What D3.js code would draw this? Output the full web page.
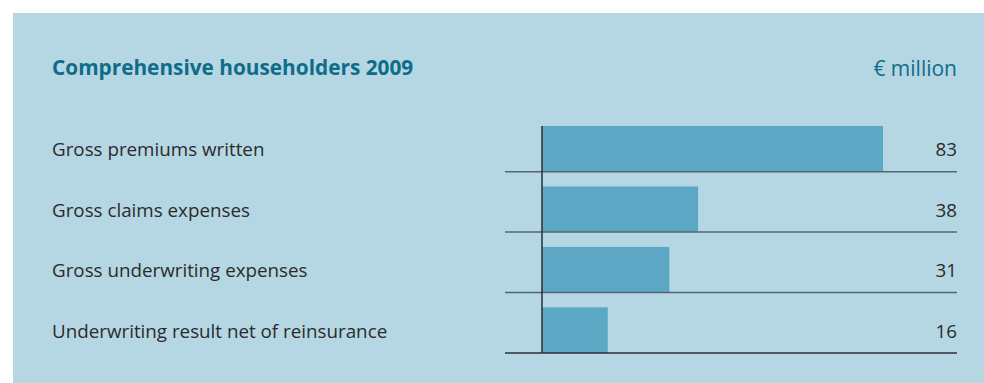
<!DOCTYPE html>
<html>
<head>
<meta charset="utf-8">
<script src="https://cdn.jsdelivr.net/npm/d3@7"></script>
<style>
  html, body { margin: 0; padding: 0; background: #ffffff; }
  svg { display: block; }
</style>
</head>
<body>
<svg id="chart" width="984" height="383"></svg>
<script>
// Comprehensive householders 2009, € million
const title = "Comprehensive householders 2009";
const unitLabel = "€ million";
const categories = [
  "Gross premiums written",
  "Gross claims expenses",
  "Gross underwriting expenses",
  "Underwriting result net of reinsurance"
];
const values = [83, 38, 31, 16];

const svg = d3.select("#chart");
const W = 984, H = 383;

// panel
svg.append("rect")
  .attr("x", 13).attr("y", 13)
  .attr("width", W - 13).attr("height", H - 13)
  .attr("fill", "#b5d6e3");

const font = "'Open Sans', 'Liberation Sans', sans-serif";

svg.append("text")
  .attr("x", 52).attr("y", 75)
  .attr("font-family", font).attr("font-weight", 700)
  .attr("font-size", 20.8).attr("fill", "#0f6c89")
  .text(title);

svg.append("text")
  .attr("x", 957).attr("y", 76)
  .attr("text-anchor", "end")
  .attr("font-family", font).attr("font-size", 21)
  .attr("fill", "#0f6c89")
  .text(unitLabel);

// layout
const x0 = 542, xMax = 883;
const x = d3.scaleLinear().domain([0, d3.max(values)]).range([x0, xMax]);
const y = d3.scaleBand().domain(categories).range([126, 353]).paddingInner(0.245).paddingOuter(0);

const rows = svg.selectAll("g.row").data(categories).join("g").attr("class", "row");

// bars
rows.append("rect")
  .attr("x", x(0))
  .attr("y", d => y(d))
  .attr("width", (d, i) => x(values[i]) - x(0))
  .attr("height", y.bandwidth())
  .attr("fill", "#5ca8c4");

// baseline under each row
rows.append("line")
  .attr("x1", 505).attr("x2", 957)
  .attr("y1", d => y(d) + y.bandwidth())
  .attr("y2", d => y(d) + y.bandwidth())
  .attr("stroke", (d, i) => i === categories.length - 1 ? "#2a2f33" : "#56656d")
  .attr("stroke-width", 1.5);

// category labels
rows.append("text")
  .attr("x", 52)
  .attr("y", d => y(d) + y.bandwidth() / 2 + 7.5)
  .attr("font-family", font).attr("font-size", 18.8)
  .attr("fill", "#2b2b2b")
  .text(d => d);

// value labels
rows.append("text")
  .attr("x", 957)
  .attr("y", (d, i) => y(d) + y.bandwidth() / 2 + 7.5)
  .attr("text-anchor", "end")
  .attr("font-family", font).attr("font-size", 18.8)
  .attr("fill", "#2b2b2b")
  .text((d, i) => values[i]);

// zero axis
svg.append("line")
  .attr("x1", x(0)).attr("x2", x(0))
  .attr("y1", y(categories[0])).attr("y2", y(categories[categories.length - 1]) + y.bandwidth())
  .attr("stroke", "#2a2f33").attr("stroke-width", 1.5);
</script>
</body>
</html>
